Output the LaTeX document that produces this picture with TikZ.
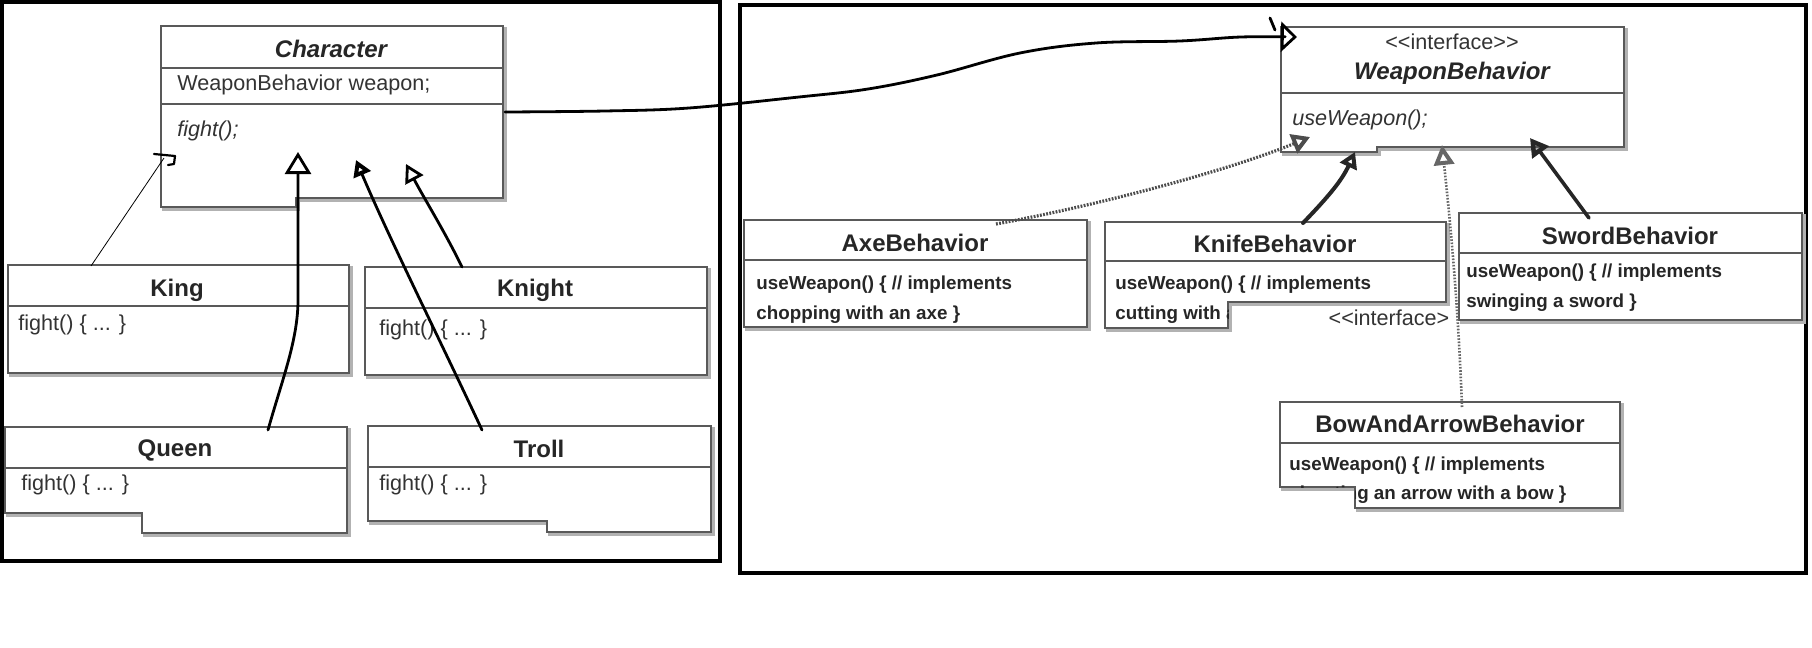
\documentclass[tikz,border=0pt]{standalone}
\usepackage{fontspec}
\setmainfont{Liberation Sans}
\usetikzlibrary{arrows.meta,calc}
% class box outline: soft shadow, white body, grey border
\newcommand\umlbox[1]{%
  \draw[classshadow,shift={(2.5,2.5)}] #1;
  \fill[white] #1;
  \draw[classline] #1;}
\begin{document}
\begin{tikzpicture}[x=0.5pt,y=-0.5pt,
  frame/.style={line width=1.6pt,black},
  classline/.style={draw=black!65,line width=0.8pt},
  classshadow/.style={draw=black!30,line width=1.4pt},
  title/.style={inner sep=0pt,font=\fontsize{12}{14}\selectfont\bfseries,text=black!85},
  ititle/.style={title,font=\fontsize{12}{14}\selectfont\bfseries\itshape},
  member/.style={inner sep=0pt,anchor=west,font=\fontsize{10.8}{13}\selectfont,text=black!80},
  imember/.style={member,font=\fontsize{10.8}{13}\selectfont\itshape},
  bmember/.style={member,font=\fontsize{9.4}{11}\selectfont\bfseries,text=black!85},
  stereo/.style={inner sep=0pt,font=\fontsize{10.8}{13}\selectfont,text=black!80},
  hand/.style={black,line width=1.4pt,line cap=round,line join=round},
  grainy/.style={black!70,line width=1.6pt,dash pattern=on 0.9pt off 0.7pt},
]
\useasboundingbox (0,0) rectangle (1812,648);

% ---------- frames ----------
\draw[frame] (2,2) rectangle (720,561);
\draw[frame] (740,5) rectangle (1806,573);

% ---------- Character hierarchy ----------
\umlbox{(161,26) -- (503,26) -- (503,198) -- (296,198) -- (296,207) -- (161,207) -- cycle}
\draw[classline] (161,68) -- (503,68) (161,104) -- (503,104);
\node[ititle] (charTitle) at (331,49) {Character};
\node[member] (charAttr) at (177,85) {WeaponBehavior weapon;};
\node[imember] (charOp) at (177,131) {fight();};

\umlbox{(8,265) rectangle (349,373)}
\draw[classline] (8,306) -- (349,306);
\node[title] (kingTitle) at (177,290) {King};
\node[member] (kingOp) at (18,325) {fight() \{ ... \}};

\umlbox{(365,267) rectangle (707,375)}
\draw[classline] (365,308) -- (707,308);
\node[title] (knightTitle) at (535,290) {Knight};
\node[member] (knightOp) at (379,330) {fight() \{ ... \}};

\umlbox{(5,427) -- (347,427) -- (347,533) -- (142,533) -- (142,513) -- (5,513) -- cycle}
\draw[classline] (5,468) -- (347,468);
\node[title] (queenTitle) at (175,450) {Queen};
\node[member] (queenOp) at (21,485) {fight() \{ ... \}};

\umlbox{(368,426) -- (711,426) -- (711,532) -- (547,532) -- (547,521) -- (368,521) -- cycle}
\draw[classline] (368,467) -- (711,467);
\node[title] (trollTitle) at (539,449) {Troll};
\node[member] (trollOp) at (379,485) {fight() \{ ... \}};

% ---------- WeaponBehavior hierarchy ----------
\umlbox{(1281,27) -- (1624,27) -- (1624,147) -- (1377,147) -- (1377,152) -- (1281,152) -- cycle}
\draw[classline] (1281,93) -- (1624,93);
\node[stereo] (wbStereo) at (1452,42) {{<}{<}interface{>}{>}};
\node[ititle] (wbTitle) at (1452,73) {WeaponBehavior};
\node[imember] (wbOp) at (1292,120) {useWeapon();};

\umlbox{(744,220) rectangle (1087,327)}
\draw[classline] (744,260) -- (1087,260);
\node[title] (axeTitle) at (915,243) {AxeBehavior};
\node[bmember] (axeOp1) at (756,285) {useWeapon() \{ // implements};
\node[bmember] (axeOp2) at (756,315) {chopping with an axe \}};

\umlbox{(1105,222) -- (1446,222) -- (1446,302) -- (1228,302) -- (1228,328) -- (1105,328) -- cycle}
\draw[classline] (1105,261) -- (1446,261);
\node[title] (knifeTitle) at (1275,244) {KnifeBehavior};
\node[bmember] (knifeOp1) at (1115,285) {useWeapon() \{ // implements};
\begin{scope}
  \clip (1105,222) -- (1446,222) -- (1446,302) -- (1228,302) -- (1228,328) -- (1105,328) -- cycle;
  \node[bmember] (knifeOp2) at (1115,315) {cutting with a knife \}};
\end{scope}
\node[stereo] (looseStereo) at (1389,318) {{<}{<}interface{>}};

\umlbox{(1459,213) rectangle (1802,320)}
\draw[classline] (1459,253) -- (1802,253);
\node[title] (swordTitle) at (1630,236) {SwordBehavior};
\node[bmember] (swordOp1) at (1466,273) {useWeapon() \{ // implements};
\node[bmember] (swordOp2) at (1466,303) {swinging a sword \}};

\umlbox{(1280,402) -- (1620,402) -- (1620,508) -- (1355,508) -- (1355,487) -- (1280,487) -- cycle}
\draw[classline] (1280,443) -- (1620,443);
\node[title] (bowTitle) at (1450,424) {BowAndArrowBehavior};
\node[bmember] (bowOp1) at (1289,466) {useWeapon() \{ // implements};
\begin{scope}
  \clip (1280,402) -- (1620,402) -- (1620,508) -- (1355,508) -- (1355,487) -- (1280,487) -- cycle;
  \node[bmember] (bowOp2) at (1289,495) {shooting an arrow with a bow \}};
\end{scope}

% ---------- connector end points ----------
\coordinate (kingTop) at (91,266);
\coordinate (kingTip) at (164,158);
\coordinate (queenTop) at (268,430);
\coordinate (queenTip) at (298,152);
\coordinate (trollTop) at (482,430);
\coordinate (trollTip) at (356,160);
\coordinate (knightTop) at (462,267);
\coordinate (knightTip) at (406,164);
\coordinate (charOut) at (505,112);
\coordinate (wbIn) at (1297,37);
\coordinate (axeTop) at (996,224);
\coordinate (axeTip) at (1310,137);
\coordinate (knifeTop) at (1303,223);
\coordinate (knifeTip) at (1355,152);
\coordinate (bowTop) at (1462,407);
\coordinate (bowTip) at (1442,145);
\coordinate (swordTop) at (1589,218);
\coordinate (swordTip) at (1530,138);

% ---------- hand-drawn connectors ----------
\draw[black,line width=0.4pt] (kingTop) -- (kingTip);
\draw[hand,line width=1.1pt] (154,154) -- (175,156) -- (174,164) -- (168,165);

\draw[hand,-{Triangle[open,length=11pt,width=13pt,line width=1.4pt]}]
  (queenTop) .. controls (282,380) and (298,340) .. (298,300) -- (queenTip);
\draw[hand,-{Triangle[open,length=8pt,width=9pt,line width=2.2pt]}]
  (trollTop) .. controls (440,340) and (390,240) .. (trollTip);
\draw[hand,-{Triangle[open,length=9pt,width=10pt,line width=1.4pt]}]
  (knightTop) .. controls (445,232) and (425,200) .. (knightTip);

\draw[hand,-{Triangle[open,length=8pt,width=15pt,line width=1.4pt]}]
  plot[smooth,tension=0.6] coordinates {(charOut) (605,111) (689,108) (799,97)
    (868,89) (937,75) (1020,53) (1096,43) (1180,41) (1241,37) (wbIn)};
\draw[hand] (1270,18) -- (1275,30);

\draw[grainy,-{Triangle[open,length=9pt,width=10pt,line width=2pt]}]
  (axeTop) .. controls (1100,205) and (1230,170) .. (axeTip);
\draw[black!85,line width=2pt,line cap=round,-{Triangle[open,length=8pt,width=9pt,line width=2.6pt]}]
  (knifeTop) .. controls (1330,195) and (1342,180) .. (knifeTip);
\draw[black!60,line width=1.3pt,dash pattern=on 0.8pt off 0.8pt,-{Triangle[open,length=10pt,width=10pt,line width=2pt]}]
  (bowTop) .. controls (1458,300) and (1450,220) .. (bowTip);
\draw[black!85,line width=1.8pt,line cap=round,-{Triangle[open,length=9pt,width=10pt,line width=2.4pt]}]
  (swordTop) -- (swordTip);
\end{tikzpicture}
\end{document}
